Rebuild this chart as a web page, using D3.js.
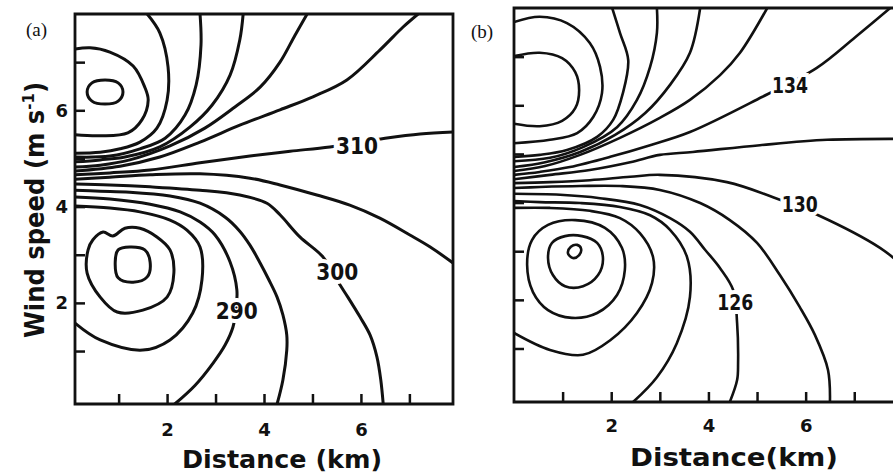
<!DOCTYPE html>
<html>
<head>
<meta charset="utf-8">
<script src="https://cdn.jsdelivr.net/npm/d3@7"></script>
<style>
    body { margin: 0; background: #fff; }
    svg { display: block; }
</style>
</head>
<body>
<div id="chart"></div>
<script>
// ---- panel (a): traced contour lines, points are [distance km, wind speed m/s] ----
const levelsA = [345, 340, 335, 330, 325, 320, 315, 310, 305, 300, 295, 290, 285, 280, 275];
const closedA = [345, 280, 275];
const linesA = [
    [[0.35,6.38],[0.45,6.57],[0.72,6.63],[0.99,6.57],[1.09,6.38],[0.99,6.19],[0.72,6.13],[0.45,6.19]],
    [[0.10,7.27],[0.41,7.30],[0.82,7.21],[1.30,6.92],[1.54,6.48],[1.61,6.21],[1.48,5.80],[1.19,5.53],[0.62,5.47],[0.10,5.49]],
    [[1.59,8.0],[1.85,7.61],[2.02,6.90],[2.00,6.21],[1.79,5.63],[1.44,5.34],[1.03,5.20],[0.62,5.13],[0.10,5.11]],
    [[2.68,8.0],[2.70,7.36],[2.60,6.53],[2.37,5.90],[1.96,5.42],[1.44,5.20],[0.82,5.05],[0.10,5.03]],
    [[3.57,8.0],[3.50,7.46],[3.30,6.73],[2.93,6.11],[2.47,5.65],[1.85,5.24],[1.13,5.03],[0.62,4.97],[0.10,4.93]],
    [[4.89,8.0],[4.64,7.56],[4.33,7.00],[3.92,6.48],[3.40,6.07],[2.78,5.63],[2.06,5.26],[1.23,4.97],[0.62,4.86],[0.10,4.82]],
    [[7.18,8.0],[6.87,7.73],[6.39,7.25],[5.71,6.63],[5.01,6.28],[4.33,6.01],[3.50,5.69],[2.68,5.34],[1.85,5.03],[1.03,4.84],[0.10,4.74]],
    [[7.90,5.55],[7.22,5.51],[6.50,5.42],[5.36,5.24],[4.54,5.15],[3.71,5.05],[2.68,4.91],[1.65,4.76],[0.82,4.70],[0.10,4.66]],
    [[7.90,2.83],[7.43,3.16],[7.01,3.41],[6.39,3.76],[5.77,4.03],[5.09,4.24],[4.33,4.45],[3.71,4.59],[2.68,4.68],[1.65,4.66],[0.82,4.61],[0.10,4.57]],
    [[6.46,-0.1],[6.41,0.40],[6.33,0.88],[6.19,1.33],[5.98,1.71],[5.73,2.12],[5.57,2.37],[5.22,2.95],[4.74,3.37],[4.33,3.83],[4.06,4.07],[3.50,4.24],[2.68,4.34],[1.65,4.41],[0.82,4.45],[0.10,4.47]],
    [[4.27,-0.1],[4.39,0.40],[4.47,1.02],[4.47,1.33],[4.39,1.75],[4.27,2.12],[4.10,2.48],[3.92,2.83],[3.71,3.20],[3.50,3.49],[3.20,3.78],[2.68,4.07],[2.06,4.22],[1.23,4.30],[0.62,4.32],[0.10,4.34]],
    [[2.16,-0.1],[2.58,0.29],[2.95,0.75],[3.20,1.13],[3.36,1.50],[3.42,1.85],[3.44,2.27],[3.30,2.85],[2.99,3.41],[2.68,3.68],[2.27,3.89],[1.65,4.05],[0.82,4.16],[0.10,4.20]],
    [[0.10,1.58],[0.62,1.23],[1.50,1.02],[2.06,1.23],[2.53,1.79],[2.72,2.48],[2.68,3.16],[2.41,3.51],[2.06,3.72],[1.44,3.89],[0.82,3.97],[0.10,4.01]],
    [[0.37,3.10],[0.35,2.62],[0.62,2.12],[0.97,1.81],[1.50,1.85],[2.00,2.12],[2.14,2.62],[2.06,3.10],[1.79,3.37],[1.44,3.55],[1.13,3.55],[0.88,3.39],[0.68,3.47],[0.47,3.31]],
    [[0.93,2.85],[0.99,3.10],[1.23,3.16],[1.54,3.10],[1.65,2.85],[1.59,2.54],[1.30,2.43],[0.99,2.52]]
];
const labelTextA = ["290", "300", "310"];
const labelPosA = [[3.44, 1.83], [5.51, 2.64], [5.92, 5.26]];

// ---- panel (b) ----
const levelsB = [146, 144, 142, 140, 138, 136, 134, 132, 130, 128, 126, 124, 122, 120, 118, 116];
const closedB = [120, 118, 116];
const linesB = [
    [[0,7.01],[0.53,7.08],[0.99,6.97],[1.26,6.68],[1.34,6.31],[1.26,5.94],[0.99,5.68],[0.53,5.57],[0,5.62]],
    [[0,7.71],[0.53,7.82],[1.09,7.69],[1.56,7.28],[1.77,6.79],[1.81,6.25],[1.63,5.76],[1.30,5.43],[0.74,5.29],[0,5.22]],
    [[2.02,8.0],[2.18,7.49],[2.35,6.93],[2.24,6.25],[2.04,5.70],[1.71,5.35],[1.09,5.08],[0.53,4.98],[0,4.94]],
    [[2.94,8.0],[2.94,7.49],[2.80,6.79],[2.53,6.11],[2.12,5.55],[1.42,5.14],[0.74,4.92],[0,4.85]],
    [[3.83,8.0],[3.62,7.08],[3.21,6.42],[2.70,5.84],[2.08,5.39],[1.36,5.04],[0.64,4.83],[0,4.73]],
    [[5.21,8.0],[4.65,7.08],[4.24,6.62],[3.62,6.11],[3.00,5.74],[2.18,5.33],[1.36,4.98],[0.64,4.75],[0,4.65]],
    [[7.74,8.0],[7.02,7.40],[6.23,6.77],[5.10,6.17],[3.62,5.45],[2.80,5.18],[1.98,4.94],[1.15,4.73],[0.53,4.63],[0,4.57]],
    [[7.90,5.31],[6.44,5.29],[5.06,5.18],[3.68,5.04],[3.00,4.98],[2.39,4.83],[1.56,4.67],[0.74,4.57],[0,4.48]],
    [[7.90,2.78],[7.53,3.07],[6.26,3.74],[5.33,4.11],[4.38,4.42],[3.00,4.57],[2.39,4.53],[1.56,4.46],[0.74,4.42],[0,4.40]],
    [[6.50,-0.1],[6.46,0.56],[6.19,1.28],[5.88,1.85],[5.47,2.51],[5.00,3.17],[4.44,3.64],[3.83,3.99],[3.00,4.26],[2.18,4.34],[1.36,4.34],[0.53,4.32],[0,4.30]],
    [[4.44,-0.1],[4.59,0.35],[4.61,0.70],[4.59,1.52],[4.51,2.20],[4.24,2.65],[3.93,3.03],[3.62,3.40],[3.21,3.68],[2.59,3.95],[1.77,4.09],[0.95,4.16],[0,4.18]],
    [[2.45,-0.1],[2.94,0.41],[3.35,1.11],[3.62,2.06],[3.56,2.88],[3.21,3.44],[2.80,3.74],[2.18,3.91],[1.36,3.99],[0.53,4.01],[0,4.03]],
    [[0,1.32],[0.74,0.97],[1.42,0.87],[1.98,1.17],[2.53,1.73],[2.84,2.35],[2.86,2.88],[2.59,3.37],[2.18,3.68],[1.56,3.83],[0.74,3.89],[0,3.89]],
    [[0.27,2.72],[0.37,3.23],[0.70,3.54],[1.26,3.64],[1.87,3.48],[2.22,3.07],[2.28,2.61],[2.12,2.10],[1.71,1.73],[1.19,1.63],[0.70,1.79],[0.39,2.16]],
    [[0.70,2.86],[0.78,3.17],[1.05,3.31],[1.40,3.31],[1.71,3.17],[1.83,2.86],[1.73,2.51],[1.42,2.28],[1.05,2.28],[0.80,2.51]],
    [[1.11,2.96],[1.17,3.09],[1.30,3.13],[1.38,3.05],[1.34,2.92],[1.21,2.86]]
];
const labelTextB = ["134", "130", "126"];
const labelPosB = [[5.68, 6.40], [5.88, 3.97], [4.55, 1.94]];

// ---- axes ----
const xTicks = [1, 2, 3, 4, 5, 6, 7];
const xTickLabels = ["", "2", "", "4", "", "6", ""];
const yTicks = [1, 2, 3, 4, 5, 6, 7];
const yTickLabels = ["", "2", "", "4", "", "6", ""];

const ink = "#111";
const numFont = "'DejaVu Sans', sans-serif";

const svg = d3.select("#chart").append("svg")
    .attr("width", 893)
    .attr("height", 475)
    .style("background", "#fff");

function drawPanel(p) {
    let x = d3.scaleLinear().domain(p.xDomain).range([p.left, p.right]);
    let y = d3.scaleLinear().domain(p.yDomain).range([p.bottom, p.top]);
    let g = svg.append("g");

    svg.append("clipPath").attr("id", "clip-" + p.id)
        .append("rect")
        .attr("x", p.left).attr("y", p.top)
        .attr("width", p.right - p.left).attr("height", p.bottom - p.top);

    let openLine = d3.line().x(d => x(d[0])).y(d => y(d[1])).curve(d3.curveCatmullRom.alpha(0.5));
    let closedLine = d3.line().x(d => x(d[0])).y(d => y(d[1])).curve(d3.curveCatmullRomClosed.alpha(0.5));

    // contour lines
    g.append("g")
        .attr("clip-path", "url(#clip-" + p.id + ")")
        .selectAll("path")
        .data(p.lines)
        .join("path")
        .attr("d", (d, i) => p.closed.includes(p.levels[i]) ? closedLine(d) : openLine(d))
        .attr("fill", "none")
        .attr("stroke", ink)
        .attr("stroke-width", p.lineWidth)
        .attr("stroke-linecap", "round")
        .attr("stroke-linejoin", "round");

    // frame
    g.append("path")
        .attr("d", `M${p.right},${p.top}H${p.left}V${p.bottom}H${p.right}` + (p.closeRight ? "Z" : ""))
        .attr("fill", "none")
        .attr("stroke", ink)
        .attr("stroke-width", 2.8);

    // x axis, ticks pointing inward
    let xAxis = g.append("g")
        .attr("transform", "translate(0," + p.bottom + ")")
        .call(d3.axisBottom(x).tickValues(xTicks).tickSizeInner(-10).tickSizeOuter(0)
            .tickPadding(p.xPad).tickFormat((d, i) => xTickLabels[i]));
    xAxis.select(".domain").remove();
    xAxis.selectAll("line").attr("stroke", ink).attr("stroke-width", 2.5);
    xAxis.selectAll("text").attr("fill", ink).style("font-family", numFont)
        .style("font-size", "18px").style("font-weight", "bold");

    // y axis
    let yAxis = g.append("g")
        .attr("transform", "translate(" + p.left + ",0)")
        .call(d3.axisLeft(y).tickValues(yTicks).tickSizeInner(-10).tickSizeOuter(0)
            .tickPadding(7).tickFormat((d, i) => p.yLabels ? yTickLabels[i] : ""));
    yAxis.select(".domain").remove();
    yAxis.selectAll("line").attr("stroke", ink).attr("stroke-width", 2.5);
    yAxis.selectAll("text").attr("fill", ink).style("font-family", numFont)
        .style("font-size", "18px").style("font-weight", "bold");

    // contour labels with a white halo to break the line
    g.selectAll("text.clabel")
        .data(p.labelText)
        .join("text")
        .attr("class", "clabel")
        .attr("x", (d, i) => x(p.labelPos[i][0]))
        .attr("y", (d, i) => y(p.labelPos[i][1]))
        .attr("dy", "0.36em")
        .attr("text-anchor", "middle")
        .attr("font-family", numFont)
        .attr("font-weight", "bold")
        .attr("font-size", p.labelSize)
        .attr("textLength", p.labelLen)
        .attr("lengthAdjust", "spacingAndGlyphs")
        .attr("fill", ink)
        .attr("stroke", "#fff")
        .attr("stroke-width", 8)
        .attr("paint-order", "stroke")
        .text(d => d);

    // x title
    g.append("text")
        .attr("x", p.titleX)
        .attr("y", p.titleY)
        .attr("text-anchor", "middle")
        .attr("font-family", numFont)
        .attr("font-weight", "bold")
        .attr("font-size", 25)
        .attr("textLength", p.titleLen)
        .attr("lengthAdjust", "spacingAndGlyphs")
        .attr("fill", ink)
        .text(p.title);

    // panel letter
    svg.append("text")
        .attr("x", p.letterX)
        .attr("y", p.letterY)
        .attr("font-family", "'Liberation Serif', 'Times New Roman', serif")
        .attr("font-size", 19)
        .attr("fill", ink)
        .text(p.letter);
}

drawPanel({
    id: "a", left: 75, right: 453, top: 14, bottom: 404,
    xDomain: [0.1, 7.9], yDomain: [-0.1, 8.0],
    levels: levelsA, lines: linesA, closed: closedA,
    labelText: labelTextA, labelPos: labelPosA, labelSize: 23, labelLen: 42,
    lineWidth: 3, closeRight: true, xPad: 19, yLabels: true,
    title: "Distance (km)", titleX: 282, titleY: 468, titleLen: 200,
    letter: "(a)", letterX: 26, letterY: 36
});

drawPanel({
    id: "b", left: 514, right: 898, top: 8, bottom: 402,
    xDomain: [0, 7.9], yDomain: [-0.1, 8.0],
    levels: levelsB, lines: linesB, closed: closedB,
    labelText: labelTextB, labelPos: labelPosB, labelSize: 21, labelLen: 36,
    lineWidth: 2.6, closeRight: false, xPad: 17, yLabels: false,
    title: "Distance(km)", titleX: 734, titleY: 466, titleLen: 208,
    letter: "(b)", letterX: 471, letterY: 38
});

// y axis title of panel (a)
let yTitle = svg.append("text")
    .attr("transform", "translate(44,210) rotate(-90)")
    .attr("text-anchor", "middle")
    .attr("font-family", numFont)
    .attr("font-weight", "bold")
    .attr("font-size", 26)
    .attr("textLength", 256)
    .attr("lengthAdjust", "spacingAndGlyphs")
    .attr("fill", ink);
yTitle.append("tspan").text("Wind speed (m s");
yTitle.append("tspan").attr("dy", -10).attr("font-size", 16).text("-1");
yTitle.append("tspan").attr("dy", 10).text(")");
</script>
</body>
</html>
